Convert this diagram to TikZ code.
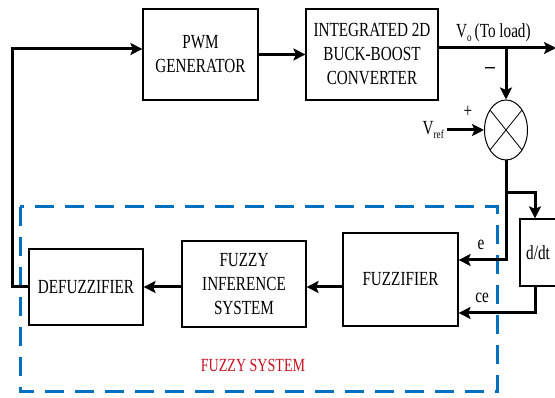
\documentclass[tikz,border=0pt]{standalone}
\usepackage{fontspec}
\setmainfont{Liberation Serif}[FakeStretch=0.76]
\usetikzlibrary{arrows.meta,shapes.geometric}
\definecolor{dashblue}{RGB}{0,112,192}
\definecolor{fsred}{RGB}{200,16,30}
\newcommand{\mysub}[1]{\raisebox{-0.35ex}{\fontsize{12}{12}\selectfont #1}}
\begin{document}
\begin{tikzpicture}[x=1pt,y=-1pt,
  blk/.style={draw, line width=1.2pt, inner sep=0pt, align=center, font=\fontsize{20}{24}\selectfont},
  conn/.style={line width=3pt, -{Stealth[length=12pt,width=12pt,inset=2.5pt]}},
  lbl/.style={font=\fontsize{20}{24}\selectfont, inner sep=0pt}]
\clip (0,0) rectangle (555,398);
% blocks
\node[blk, minimum width=115pt, minimum height=91pt] (pwm) at (200.5,54.5) {PWM\\GENERATOR};
\node[blk, minimum width=132pt, minimum height=91pt] (conv) at (372,54.5) {INTEGRATED 2D\\BUCK-BOOST\\CONVERTER};
\node[draw, ellipse, line width=1pt, minimum width=43pt, minimum height=60pt, inner sep=0pt] (sum) at (506,130) {};
\draw[line width=0.8pt] (sum.center) ++(-16,-20) -- ++(32,40);
\draw[line width=0.8pt] (sum.center) ++(16,-20) -- ++(-32,40);
\node[blk, minimum width=36pt, minimum height=67pt] (dt) at (538,252.5) {d/dt};
\node[blk, minimum width=115pt, minimum height=93pt] (fuzz) at (400.5,279.5) {FUZZIFIER};
\node[blk, minimum width=124pt, minimum height=86pt] (fis) at (244,284) {FUZZY\\INFERENCE\\SYSTEM};
\node[blk, minimum width=114pt, minimum height=76pt] (defuzz) at (86,287) {DEFUZZIFIER};
% fuzzy system frame
\draw[dashblue, line width=3pt, dash pattern=on 19pt off 11pt] (20,207) rectangle (497,392);
\node[lbl, font=\fontsize{18.5}{22}\selectfont, text=fsred] (fslabel) at (253,365) {FUZZY SYSTEM};
% labels
\node[lbl, anchor=west] (volbl) at (456,33) {V\mysub{o}\kern3pt (To load)};
\node[lbl, font=\fontsize{28}{28}\selectfont] (minus) at (490,73) {−};
\node[lbl] (plus) at (468,112) {+};
\node[lbl, anchor=east] (vref) at (444,130) {V\mysub{ref}};
\node[lbl] (elbl) at (481,245) {e};
\node[lbl] (celbl) at (482,298) {ce};
% coordinates
\coordinate (outend) at (556,48);
\coordinate (branch) at (506,48);
\coordinate (split) at (506,193);
\coordinate (ey) at (0,260);
\coordinate (cey) at (0,313);
\coordinate (fb) at (12,49);
% connectors
\draw[conn] (pwm.east) -- (conv.west);
\draw[conn] (conv.east |- outend) -- (outend);
\draw[conn] (branch) -- (sum.north);
\draw[conn] ([xshift=3pt]vref.east) -- (sum.west);
\draw[line width=3pt] (sum.south) -- (split);
\draw[conn] (split) -| ([xshift=-3pt]dt.north);
\draw[conn] (split) |- (fuzz.east |- ey);
\draw[conn] ([xshift=-3pt]dt.south) |- (fuzz.east |- cey);
\draw[conn] (fuzz.west |- defuzz) -- (fis.east |- defuzz);
\draw[conn] (fis.west |- defuzz) -- (defuzz.east);
\draw[conn] (defuzz.west) -| (fb) -- (pwm.west |- fb);
\end{tikzpicture}
\end{document}
